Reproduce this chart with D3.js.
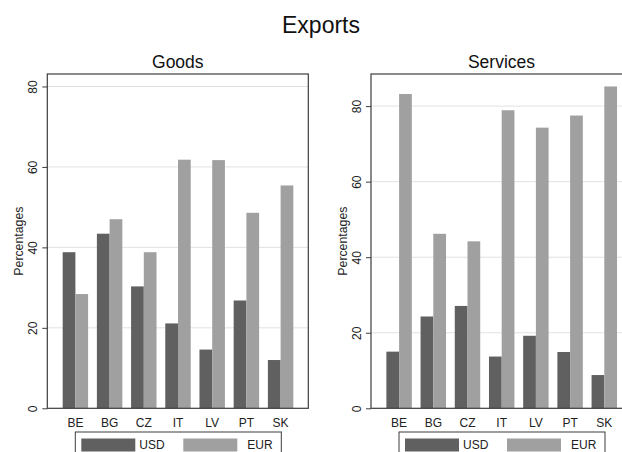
<!DOCTYPE html>
<html>
<head>
<meta charset="utf-8">
<script src="https://cdn.jsdelivr.net/npm/d3@7"></script>
<style>
  html, body { margin: 0; padding: 0; background: #fff; }
  svg { display: block; font-family: "Liberation Sans", Arial, sans-serif; }
</style>
</head>
<body>
<svg id="chart" width="622" height="452"></svg>
<script>
const countries = ["BE", "BG", "CZ", "IT", "LV", "PT", "SK"];
const seriesNames = ["USD", "EUR"];
const goodsUSD = [38.8, 43.4, 30.3, 21.1, 14.6, 26.8, 12.0];
const goodsEUR = [28.4, 47.0, 38.8, 61.8, 61.7, 48.6, 55.4];
const servicesUSD = [15.0, 24.3, 27.1, 13.7, 19.2, 14.9, 8.8];
const servicesEUR = [83.2, 46.2, 44.2, 78.9, 74.3, 77.5, 85.2];
const yTicks = [0, 20, 40, 60, 80];
const colors = { USD: "#606060", EUR: "#a0a0a0" };

const svg = d3.select("#chart");

svg.append("text")
  .attr("x", 321).attr("y", 33)
  .attr("text-anchor", "middle")
  .attr("font-size", 23)
  .attr("fill", "#111")
  .text("Exports");

function panel(left, title, usd, eur, yMax) {
  const top = 74, bottom = 408.3, width = 261;
  const right = left + width;
  const g = svg.append("g");

  const y = d3.scaleLinear().domain([0, yMax]).range([bottom, top]);
  const x0 = d3.scaleBand().domain(countries)
    .range([left + 11, right - 10.6])
    .paddingInner(0.256).paddingOuter(0.128);
  const x1 = d3.scaleBand().domain(seriesNames).range([0, x0.bandwidth()]);

  // gridlines
  g.selectAll("line.grid").data(yTicks.filter(d => d > 0)).enter()
    .append("line")
    .attr("x1", left).attr("x2", right)
    .attr("y1", d => y(d)).attr("y2", d => y(d))
    .attr("stroke", "#e2e2e2").attr("stroke-width", 1);

  // bars
  const rows = countries.map((c, i) => ({ c, USD: usd[i], EUR: eur[i] }));
  const grp = g.selectAll("g.grp").data(rows).enter().append("g")
    .attr("transform", d => `translate(${x0(d.c)},0)`);
  grp.selectAll("rect").data(d => seriesNames.map(s => ({ s, v: d[s] }))).enter()
    .append("rect")
    .attr("x", d => x1(d.s))
    .attr("width", x1.bandwidth())
    .attr("y", d => y(d.v))
    .attr("height", d => y(0) - y(d.v))
    .attr("fill", d => colors[d.s]);

  // frame
  g.append("rect")
    .attr("x", left).attr("y", top)
    .attr("width", width).attr("height", bottom - top)
    .attr("fill", "none").attr("stroke", "#3c3c3c").attr("stroke-width", 1.2);

  // y axis
  const yAxis = d3.axisLeft(y).tickValues(yTicks).tickSize(5).tickPadding(0).tickFormat(d3.format("d"));
  const ya = g.append("g").attr("transform", `translate(${left},0)`).call(yAxis);
  ya.select(".domain").remove();
  ya.selectAll(".tick line").attr("stroke", "#3c3c3c");
  ya.selectAll(".tick text")
    .attr("x", null).attr("dy", null)
    .attr("transform", "translate(-10.5,0) rotate(-90)")
    .attr("text-anchor", "middle")
    .attr("font-size", 12)
    .attr("font-family", "Liberation Sans, Arial, sans-serif")
    .attr("fill", "#222");

  // x axis
  const xAxis = d3.axisBottom(x0).tickSize(0).tickPadding(0);
  const xa = g.append("g").attr("transform", `translate(0,${bottom})`).call(xAxis);
  xa.select(".domain").remove();
  xa.selectAll(".tick text")
    .attr("y", 19).attr("dy", null)
    .attr("font-size", 12)
    .attr("font-family", "Liberation Sans, Arial, sans-serif")
    .attr("fill", "#222");

  // y label
  g.append("text")
    .attr("transform", `translate(${left - 24},${(top + bottom) / 2}) rotate(-90)`)
    .attr("text-anchor", "middle")
    .attr("font-size", 12.3)
    .attr("fill", "#222")
    .text("Percentages");

  // title
  g.append("text")
    .attr("x", left + width / 2).attr("y", 68)
    .attr("text-anchor", "middle")
    .attr("font-size", 17.5)
    .attr("fill", "#111")
    .text(title);

  // legend
  const lx = left + 28;
  const leg = g.append("g");
  leg.append("rect")
    .attr("x", lx).attr("y", 432)
    .attr("width", 206).attr("height", 30)
    .attr("fill", "none").attr("stroke", "#3c3c3c").attr("stroke-width", 1);
  const items = [
    { s: "USD", sx: lx + 6, tx: lx + 64 },
    { s: "EUR", sx: lx + 108, tx: lx + 172 }
  ];
  items.forEach(it => {
    leg.append("rect")
      .attr("x", it.sx).attr("y", 438.5)
      .attr("width", 54).attr("height", 13)
      .attr("fill", colors[it.s]);
    leg.append("text")
      .attr("x", it.tx).attr("y", 449)
      .attr("font-size", 12)
      .attr("fill", "#222")
      .text(it.s);
  });
}

panel(47.3, "Goods", goodsUSD, goodsEUR, 83.1);
panel(371, "Services", servicesUSD, servicesEUR, 88.5);
</script>
</body>
</html>
